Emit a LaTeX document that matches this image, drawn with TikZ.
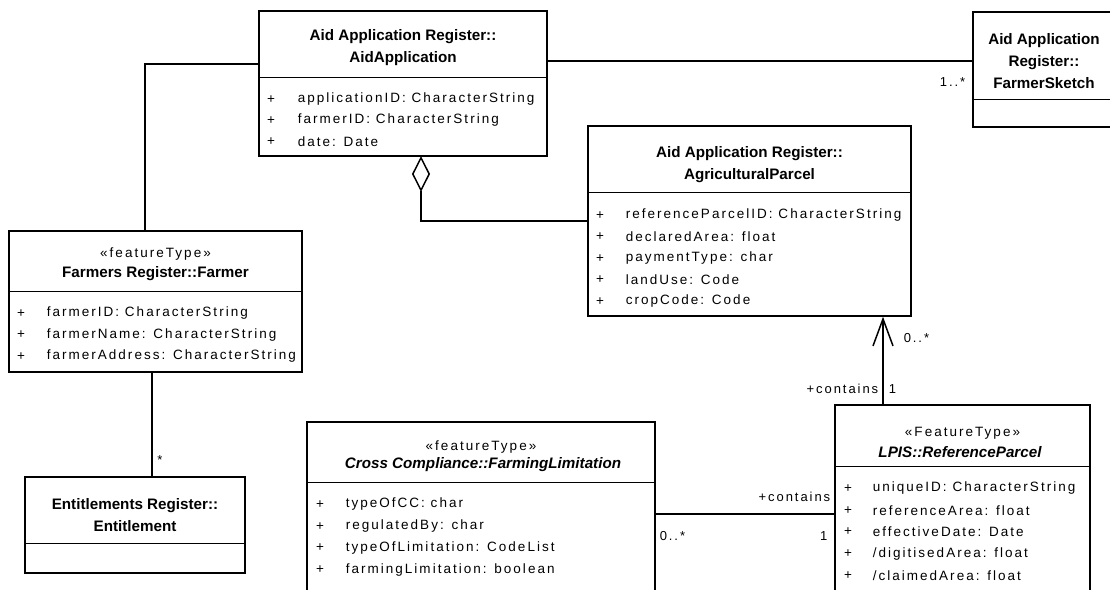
\documentclass[tikz,border=0pt]{standalone}
\usepackage{fontspec}
\setmainfont{Liberation Sans}
\newfontfamily\attrfont[LetterSpace=15]{Liberation Sans}
\usepackage{tikz}
\usetikzlibrary{arrows.meta,shapes,positioning,calc}

\begin{document}
\begin{tikzpicture}[x=1pt,y=-1pt,line width=1.5pt,
  classbox/.style={draw,rectangle,inner sep=0pt},
  title/.style={font=\fontsize{15.2}{22}\selectfont\bfseries,align=center,inner sep=0pt},
  stereo/.style={font={\attrfont\fontsize{13.5}{16}\selectfont},inner sep=0pt},
  attr/.style={font={\attrfont\fontsize{13.5}{16}\selectfont},anchor=west,inner sep=0pt},
  mult/.style={font={\attrfont\fontsize{13}{16}\selectfont},inner sep=0pt},
  openarrow/.style={-{Straight Barb[length=27pt,width=20pt]}}]
  \useasboundingbox (0,0) rectangle (1110,589);

  % Classes
  \node[classbox,minimum width=288pt,minimum height=145pt] (app) at (403,83.5) {};
  \node[classbox,minimum width=142pt,minimum height=115pt] (sketch) at (1044,69.5) {};
  \node[classbox,minimum width=323pt,minimum height=190pt] (parcel) at (749.5,221) {};
  \node[classbox,minimum width=293pt,minimum height=141pt] (farmer) at (155.5,301.5) {};
  \node[classbox,minimum width=220pt,minimum height=96pt] (ent) at (135,525) {};
  \node[classbox,minimum width=348pt,minimum height=184pt] (limit) at (481,514) {};
  \node[classbox,minimum width=255pt,minimum height=215pt] (refp) at (962.5,512.5) {};

  % Compartment lines
  \draw ([yshift=-67pt]app.north west) -- ([yshift=-67pt]app.north east);
  \draw ([yshift=-88pt]sketch.north west) -- ([yshift=-88pt]sketch.north east);
  \draw ([yshift=-67pt]parcel.north west) -- ([yshift=-67pt]parcel.north east);
  \draw ([yshift=-61pt]farmer.north west) -- ([yshift=-61pt]farmer.north east);
  \draw ([yshift=-67pt]ent.north west) -- ([yshift=-67pt]ent.north east);
  \draw ([yshift=-61pt]limit.north west) -- ([yshift=-61pt]limit.north east);
  \draw ([yshift=-62pt]refp.north west) -- ([yshift=-62pt]refp.north east);

  % Class names
  \node[title] (appT) at (403,48) {Aid Application Register::\\AidApplication};
  \node[title] (sketchT) at (1044,61) {Aid Application\\Register::\\FarmerSketch};
  \node[title] (parcelT) at (749.5,164.5) {Aid Application Register::\\AgriculturalParcel};
  \node[stereo] (farmerS) at (155.5,254) {«featureType»};
  \node[title] (farmerT) at (155.5,274) {Farmers Register::Farmer};
  \node[title] (entT) at (135,515) {Entitlements Register::\\Entitlement};
  \node[stereo] (limitS) at (481,447) {«featureType»};
  \node[title,font=\fontsize{15.2}{22}\selectfont\bfseries\itshape] (limitT) at (483,465) {Cross Compliance::FarmingLimitation};
  \node[stereo] (refpS) at (962.5,433) {«FeatureType»};
  \node[title,font=\fontsize{15.2}{22}\selectfont\bfseries\itshape] (refpT) at (960,452) {LPIS::ReferenceParcel};

  % Attributes
  \foreach \a [count=\i from 0] in {applicationID: CharacterString, farmerID: CharacterString, date: Date} {
    \node[attr,anchor=center] (appP\i) at (271,99.5+21*\i) {+};
    \node[attr] (appA\i) at (297,99.5+21*\i) {\a};
  }
  \foreach \a [count=\i from 0] in {referenceParcelID: CharacterString, declaredArea: float,
      paymentType: char, landUse: Code, cropCode: Code} {
    \node[attr,anchor=center] (parcelP\i) at (600,215.5+21.5*\i) {+};
    \node[attr] (parcelA\i) at (625,215.5+21.5*\i) {\a};
  }
  \foreach \a [count=\i from 0] in {farmerID: CharacterString, farmerName: CharacterString,
      farmerAddress: CharacterString} {
    \node[attr,anchor=center] (farmerP\i) at (21,313.5+21.5*\i) {+};
    \node[attr] (farmerA\i) at (46,313.5+21.5*\i) {\a};
  }
  \foreach \a [count=\i from 0] in {typeOfCC: char, regulatedBy: char,
      typeOfLimitation: CodeList, farmingLimitation: boolean} {
    \node[attr,anchor=center] (limitP\i) at (320,504.5+21.7*\i) {+};
    \node[attr] (limitA\i) at (345,504.5+21.7*\i) {\a};
  }
  \foreach \a [count=\i from 0] in {uniqueID: CharacterString, referenceArea: float,
      effectiveDate: Date, /digitisedArea: float, /claimedArea: float} {
    \node[attr,anchor=center] (refpP\i) at (848,488.5+21.75*\i) {+};
    \node[attr] (refpA\i) at (872,488.5+21.75*\i) {\a};
  }

  % Associations
  \draw ([yshift=19.5pt]app.west) -| ([xshift=-10.5pt]farmer.north);
  \draw ([yshift=22.5pt]app.east) coordinate (s) -- (s -| sketch.west);
  \node[mult,anchor=east] (sketchM) at (966,82) {1..*};

  \node[draw,diamond,fill=white,inner sep=0pt,minimum width=17pt,minimum height=33pt,
        anchor=north] (agg) at ([xshift=18pt]app.south) {};
  \draw (agg.south) |- (parcel.west);

  \draw ([xshift=-3.5pt]farmer.south) coordinate (f) -- (f |- ent.north);
  \node[mult] (entM) at (160,460) {*};

  \draw[openarrow] ([xshift=-79.5pt]refp.north) coordinate (r) -- (r |- parcel.south);
  \node[mult,anchor=west] (parcelM) at (903,338) {0..*};
  \node[mult,anchor=east] (refpR) at (879,389) {+contains};
  \node[mult,anchor=west] (refpM) at (888,389) {1};

  \draw (limit.east) -- (limit.east -| refp.west);
  \node[mult,anchor=east] (limitR) at (831,497) {+contains};
  \node[mult,anchor=west] (limitM) at (659,536) {0..*};
  \node[mult,anchor=east] (limitN) at (828,536) {1};
\end{tikzpicture}
\end{document}
